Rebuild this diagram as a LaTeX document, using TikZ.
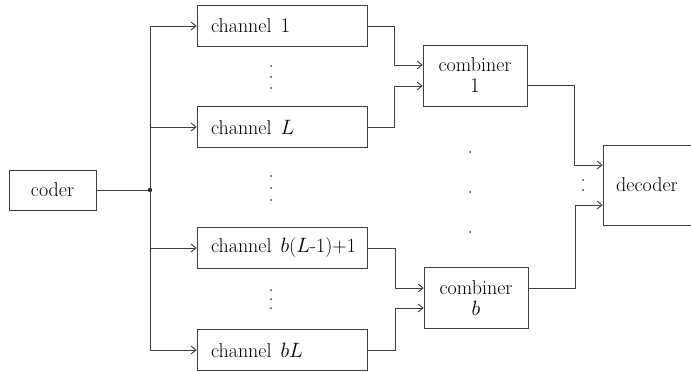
\documentclass[tikz,border=0pt]{standalone}
\usetikzlibrary{arrows.meta,calc}
\tikzset{
  ln/.style={draw=black!75, line width=0.6pt},
  arr/.style={ln, -{Straight Barb[length=5pt,width=8pt,line width=0.9pt]}},
  box/.style={draw=black!75, line width=0.6pt, rectangle, inner sep=0pt,
    font=\fontsize{20}{21}\selectfont},
  chbox/.style={box, minimum width=170pt, minimum height=41pt, inner xsep=14pt},
  cbbox/.style={box, minimum width=104pt, minimum height=61pt, align=center},
  dotm/.style={fill=black!75}
}
\newcommand{\chtext}[1]{\makebox[142pt][l]{channel\hspace{0.45em}#1}}
\begin{document}
\begin{tikzpicture}[x=1pt,y=-1pt]
\useasboundingbox (0,0) rectangle (691,372);
% nodes
\node[box, minimum width=87pt, minimum height=40pt] (coder) at (52.5,190) {coder};
\node[chbox] (ch1) at (282,26) {\chtext{$1$}};
\node[chbox] (chL) at (282,127) {\chtext{$L$}};
\node[chbox] (chb1) at (282,248) {\chtext{$b$($L$-1)+1}};
\node[chbox] (chbL) at (282,350) {\chtext{$bL$}};
\node[cbbox] (cb1) at (475,75.5) {combiner\\$1$};
\node[cbbox] (cbb) at (476,298) {combiner\\$b$};
\node[box, minimum width=88pt, minimum height=80pt] (dec) at (647,185) {decoder};
\coordinate (j) at (150,190);
% coder to bus
\draw[ln] (coder.east) -- (j);
\fill[black!85] (j) circle (2.2pt);
\draw[arr] (j) |- (ch1.west);
\draw[arr] (j) |- (chL.west);
\draw[arr] (j) |- (chb1.west);
\draw[arr] (j) |- (chbL.west);
% channels to combiners
\draw[arr] (ch1.east) -- ++(27,0) |- ($(cb1.west)+(0,-10.5)$);
\draw[arr] (chL.east) -- ++(27,0) |- ($(cb1.west)+(0,10.5)$);
\draw[arr] (chb1.east) -- ++(28,0) |- ($(cbb.west)+(0,-10)$);
\draw[arr] (chbL.east) -- ++(28,0) |- ($(cbb.west)+(0,10)$);
% combiners to decoder
\draw[arr] ($(cb1.east)+(0,9.5)$) -- (574,85) |- ($(dec.west)+(0,-20)$);
\draw[arr] ($(cbb.east)+(0,-10)$) -- (575,288) |- ($(dec.west)+(0,20)$);
% vertical dots
\foreach \y in {66,77,88} \fill[dotm] (271,\y) circle (1pt);
\foreach \y in {176,188,200} \fill[dotm] (271,\y) circle (1pt);
\foreach \y in {290,299,308} \fill[dotm] (271,\y) circle (1pt);
\foreach \y in {152,192,232} \fill[dotm] (470,\y) circle (1pt);
\foreach \y in {180,190} \fill[dotm] (583,\y) circle (1pt);
\end{tikzpicture}
\end{document}
